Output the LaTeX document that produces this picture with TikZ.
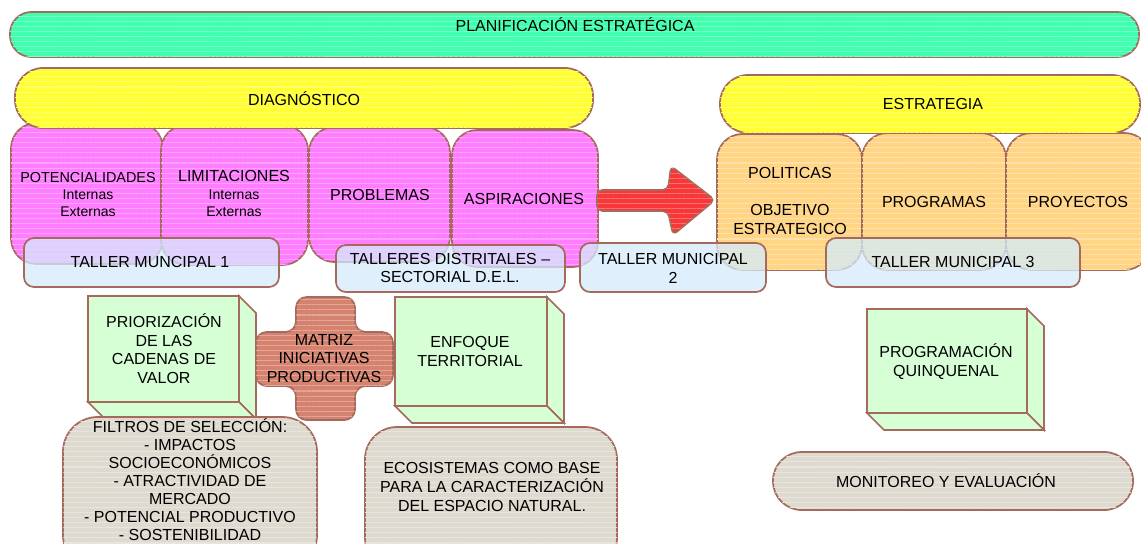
\documentclass[tikz,border=0pt]{standalone}
\usepackage{fontspec}
\setmainfont{Liberation Sans}
\usetikzlibrary{patterns.meta}
\definecolor{rim}{HTML}{A56A5C}
\definecolor{mint}{HTML}{40FFAE}
\definecolor{lemon}{HTML}{FFFF33}
\definecolor{orchid}{HTML}{FF7DFF}
\definecolor{sky}{HTML}{D4EBFB}
\definecolor{apricot}{HTML}{FFD485}
\definecolor{tomato}{HTML}{F83838}
\definecolor{sprout}{HTML}{D6FFD6}
\definecolor{clay}{HTML}{D5826F}
\definecolor{stone}{HTML}{DEDAD0}
\tikzset{
	panel/.style={draw=rim, line width=1.3pt, fill=#1},
	stripes/.style={postaction={pattern={Lines[angle=0,distance=3.8pt,line width=0.8pt]}, pattern color=#1!70!white}},
	txt/.style={font=\fontsize{12}{14}\selectfont, align=center, inner sep=0pt},
	smalltxt/.style={font=\fontsize{10.5}{13}\selectfont, align=center, inner sep=0pt}
}
\def\cuboid(#1,#2)(#3,#4){
	\draw[panel=sprout] (#1,#2) rectangle (#3,#4);
	\draw[panel=sprout] (#3,#2) -- (#3+17,#2+17) -- (#3+17,#4+17) -- (#3,#4) -- cycle;
	\draw[panel=sprout] (#1,#4) -- (#3,#4) -- (#3+17,#4+17) -- (#1+17,#4+17) -- cycle;
}

\begin{document}
\begin{tikzpicture}[x=0.75pt, y=-0.75pt]
			%%%%% FRAME %%%%%
			\useasboundingbox (0,0) rectangle (1141,543);
			\clip (0,0) rectangle (1141,543);
			
			\draw[panel=mint, stripes=mint, rounded corners=16pt] (10,12) rectangle (1139,57);
			\node[txt] (plan) at (575,25) {PLANIFICACIÓN ESTRATÉGICA};
			
			%%%%% DIAGNOSTICO %%%%%
			\draw[panel=orchid, stripes=orchid, rounded corners=19pt] (11,123) rectangle (163,264);
			\draw[panel=orchid, stripes=orchid, rounded corners=19pt] (161,125) rectangle (308,265);
			\draw[panel=orchid, stripes=orchid, rounded corners=19pt] (309,127) rectangle (450,262);
			\draw[panel=orchid, stripes=orchid, rounded corners=19pt] (452,130) rectangle (598,267);
			\draw[panel=lemon, stripes=lemon, rounded corners=21pt] (15,68) rectangle (593,128);
			\node[txt] (diag) at (304,99) {DIAGNÓSTICO};
			\node[txt, font=\fontsize{10.8}{13}\selectfont] (pot) at (88,178) {POTENCIALIDADES};
			\node[smalltxt] (potsub) at (88,203) {Internas\\Externas};
			\node[txt] (lim) at (234,176) {LIMITACIONES};
			\node[smalltxt] (limsub) at (234,203) {Internas\\Externas};
			\node[txt] (prob) at (380,195) {PROBLEMAS};
			\node[txt] (asp) at (524,199) {ASPIRACIONES};
			
			%%%%% ESTRATEGIA %%%%%
			\draw[panel=apricot, stripes=apricot, rounded corners=19pt] (717,134) rectangle (862,270);
			\draw[panel=apricot, stripes=apricot, rounded corners=19pt] (862,133) rectangle (1006,270);
			\draw[panel=apricot, stripes=apricot, rounded corners=19pt] (1006,133) rectangle (1150,270);
			\draw[panel=lemon, stripes=lemon, rounded corners=21pt] (720,75) rectangle (1140,133);
			\node[txt] (estr) at (933,104) {ESTRATEGIA};
			\node[txt] (pol) at (790,201) {POLITICAS\\ \\OBJETIVO\\ESTRATEGICO};
			\node[txt] (prog) at (934,202) {PROGRAMAS};
			\node[txt] (proy) at (1078,202) {PROYECTOS};
			
			\draw[panel=tomato, stripes=tomato, rounded corners=4pt] (597,190) -- (668,190) -- (671,166) -- (715,200) -- (673,235) -- (668,211) -- (597,211) -- cycle;
			
			%%%%% TALLERES %%%%%
			\draw[panel=sky, fill opacity=0.75, rounded corners=7.5pt] (24,238) rectangle (279,287);
			\draw[panel=sky, fill opacity=0.75, rounded corners=7.5pt] (336,245) rectangle (565,292);
			\draw[panel=sky, fill opacity=0.75, rounded corners=7.5pt] (580,243) rectangle (766,292);
			\draw[panel=sky, fill opacity=0.75, rounded corners=7.5pt] (826,238) rectangle (1080,287);
			\node[txt] (t1) at (150,262) {TALLER MUNCIPAL 1};
			\node[txt] (tdist) at (450,268) {TALLERES DISTRITALES –\\SECTORIAL D.E.L.};
			\node[txt] (t2) at (673,268.5) {TALLER MUNICIPAL\\2};
			\node[txt] (t3) at (953,262) {TALLER MUNICIPAL 3};
			
			%%%%% BOTTOM %%%%%
			\cuboid(88,296)(239,402)
			\cuboid(395,297)(547,406)
			\cuboid(867,309)(1027,413)
			\node[txt] (prio) at (164,348.5) {PRIORIZACIÓN\\DE LAS\\CADENAS DE\\VALOR};
			\node[txt] (enf) at (470,351.5) {ENFOQUE\\TERRITORIAL};
			\node[txt] (quin) at (946,361.5) {PROGRAMACIÓN\\QUINQUENAL};
			
			\draw[panel=clay, stripes=clay, rounded corners=8pt] (296,297) -- (355,297) -- (355,332) -- (393,332) -- (393,386) -- (355,386) -- (355,420) -- (296,420) -- (296,386) -- (256,386) -- (256,332) -- (296,332) -- cycle;
			\node[txt] (matriz) at (324,358.5) {MATRIZ\\INICIATIVAS\\PRODUCTIVAS};
			
			\draw[panel=stone, stripes=stone, rounded corners=26pt] (63,417) rectangle (317,570);
			\draw[panel=stone, stripes=stone, rounded corners=24pt] (365,427) rectangle (617,570);
			\draw[panel=stone, stripes=stone, rounded corners=21.5pt] (773,452) rectangle (1133,510);
			\node[txt, font=\fontsize{12}{13.5}\selectfont] (filt) at (190,479.5) {FILTROS DE SELECCIÓN:\\- IMPACTOS\\SOCIOECONÓMICOS\\- ATRACTIVIDAD DE\\MERCADO\\- POTENCIAL PRODUCTIVO\\- SOSTENIBILIDAD};
			\node[txt] (eco) at (492,487) {ECOSISTEMAS COMO BASE\\PARA LA CARACTERIZACIÓN\\DEL ESPACIO NATURAL.};
			\node[txt] (mon) at (946,481) {MONITOREO Y EVALUACIÓN};
			%%%%% END %%%%%
\end{tikzpicture}
\end{document}
